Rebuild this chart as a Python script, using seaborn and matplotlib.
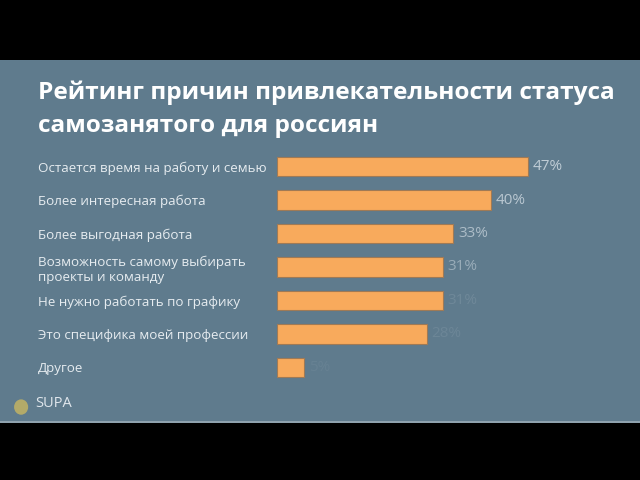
import matplotlib.pyplot as plt
import matplotlib.patches as mpatches
import seaborn as sns
import pandas as pd

reasons = ['Остается время на работу и семью',
           'Более интересная работа',
           'Более выгодная работа',
           'Возможность самому выбирать\nпроекты и команду',
           'Не нужно работать по графику',
           'Это специфика моей профессии',
           'Другое']
shares = [47, 40, 33, 31, 31, 28, 5]

df = pd.DataFrame({'reason': reasons, 'share': shares})

panel = '#5f7b8d'
orange = '#f8aa5c'

sns.set_style('white')
plt.rcParams['font.family'] = ['Open Sans', 'DejaVu Sans']

fig = plt.figure(figsize=(6.4, 4.8), dpi=100, facecolor='black')
fig.patches.append(mpatches.Rectangle((0, 0.121), 1, 0.754, transform=fig.transFigure,
                                      facecolor=panel, edgecolor='none', zorder=-1))
fig.patches.append(mpatches.Rectangle((0, 0.119), 1, 0.004, transform=fig.transFigure,
                                      facecolor='#8fa2ae', edgecolor='none', zorder=-1))

ax = fig.add_axes([0.433, 0.2, 0.542, 0.4875])
ax.set_facecolor('none')
sns.barplot(data=df, x='share', y='reason', color=orange, saturation=1,
            width=0.58, edgecolor='#a07a55', linewidth=0.8, ax=ax)
ax.set_xlim(0, 65)
ax.set_ylim(6.5, -0.5)
ax.set_xlabel('')
ax.set_ylabel('')
ax.set_xticks([])
sns.despine(ax=ax, left=True, bottom=True)
ax.tick_params(axis='y', length=0, pad=172, labelsize=9.6, labelcolor='#e6ecf0')
for lab in ax.get_yticklabels():
    lab.set_horizontalalignment('left')

# percent labels fade out like in the animated frame
fades = [0.75, 0.7, 0.6, 0.45, 0.12, 0.1, 0.06]
for i, v in enumerate(shares):
    ax.text(v + 0.9, i, f'{v}%', va='center', ha='left', fontsize=11,
            color='#e0e8ee', alpha=fades[i])

fig.text(0.059, 0.806, 'Рейтинг причин привлекательности статуса',
         fontsize=17.6, fontweight='bold', color='white', va='center')
fig.text(0.059, 0.737, 'самозанятого для россиян',
         fontsize=17.6, fontweight='bold', color='white', va='center')

fig.patches.append(mpatches.Ellipse((0.033, 0.152), 0.022, 0.032, transform=fig.transFigure,
                                    facecolor='#c9b761', edgecolor='none', alpha=0.8))
fig.text(0.055, 0.16, 'SUPA', fontsize=10.5, color='#dfe6ec', va='center')

fig.savefig('out.png', dpi=100, facecolor=fig.get_facecolor())
